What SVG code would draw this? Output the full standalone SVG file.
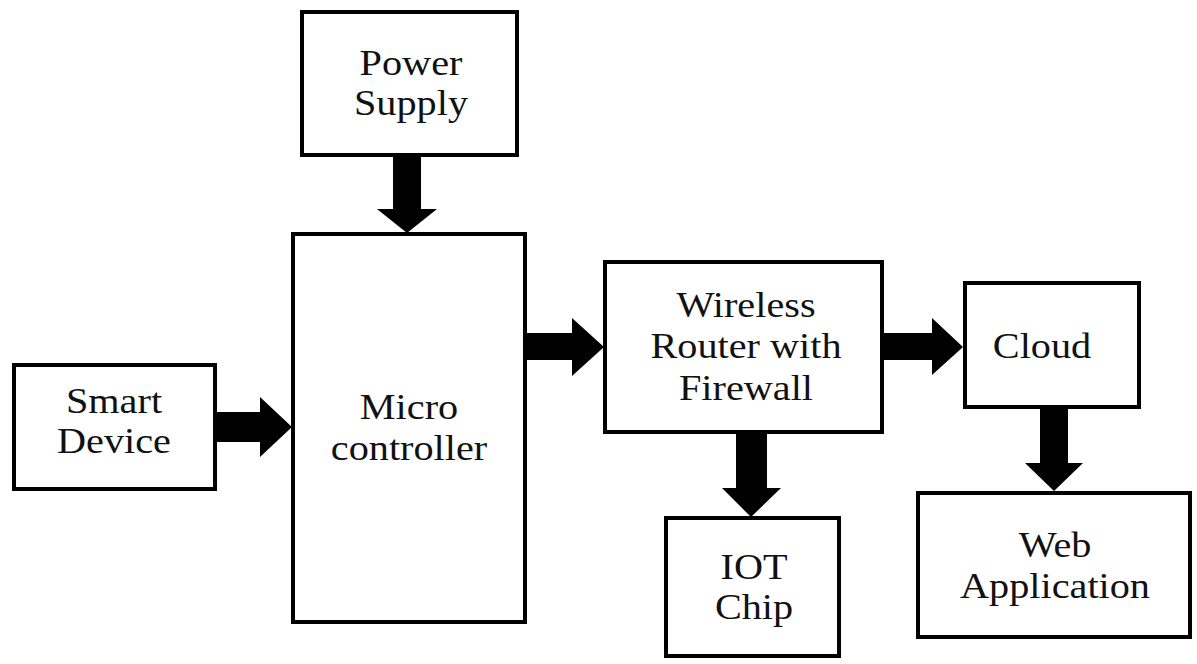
<svg xmlns="http://www.w3.org/2000/svg" width="1197" height="664" viewBox="0 0 1197 664">
<style>
.box{fill:#fff;stroke:#000;stroke-width:4}
.lbl{font-family:"Liberation Serif","Times New Roman",serif;font-size:35px;fill:#111;text-anchor:middle}
.arr{fill:#000}
</style>
<rect width="1197" height="664" fill="#fff"/>
<g id="connectors">
<polygon class="arr" points="393,156 421,156 421,209 437,209 407,233 377,209 393,209"/>
<polygon class="arr" points="216,412 260,412 260,397 292,427 260,457 260,442 216,442"/>
<polygon class="arr" points="526,333 572,333 572,318 604,347 572,376 572,360 526,360"/>
<polygon class="arr" points="883,333 932,333 932,318 963,347 932,375 932,360 883,360"/>
<polygon class="arr" points="736,433 767,433 767,488 781,488 751,517 722,488 736,488"/>
<polygon class="arr" points="1040,408 1068,408 1068,463 1083,463 1054,491 1025,463 1040,463"/>
</g>
<g id="power-supply">
<rect class="box" x="302" y="12" width="215" height="143"/>
<text class="lbl" transform="translate(411,75) scale(1.15,1)">Power</text>
<text class="lbl" transform="translate(411,115) scale(1.15,1)">Supply</text>
</g>
<g id="smart-device">
<rect class="box" x="14" y="365" width="201" height="124"/>
<text class="lbl" transform="translate(114,413) scale(1.15,1)">Smart</text>
<text class="lbl" transform="translate(114,453) scale(1.15,1)">Device</text>
</g>
<g id="microcontroller">
<rect class="box" x="293" y="234" width="232" height="388"/>
<text class="lbl" transform="translate(409,419) scale(1.15,1)">Micro</text>
<text class="lbl" transform="translate(409,460) scale(1.15,1)">controller</text>
</g>
<g id="wireless-router">
<rect class="box" x="605" y="262" width="277" height="170"/>
<text class="lbl" transform="translate(746,317) scale(1.15,1)">Wireless</text>
<text class="lbl" transform="translate(746,358) scale(1.15,1)">Router with</text>
<text class="lbl" transform="translate(746,400) scale(1.15,1)">Firewall</text>
</g>
<g id="cloud">
<rect class="box" x="965" y="283" width="174" height="124"/>
<text class="lbl" transform="translate(1042,358) scale(1.15,1)">Cloud</text>
</g>
<g id="iot-chip">
<rect class="box" x="666" y="518" width="173" height="138"/>
<text class="lbl" transform="translate(754,579) scale(1.15,1)">IOT</text>
<text class="lbl" transform="translate(754,619) scale(1.15,1)">Chip</text>
</g>
<g id="web-application">
<rect class="box" x="918" y="493" width="272" height="144"/>
<text class="lbl" transform="translate(1055,557) scale(1.15,1)">Web</text>
<text class="lbl" transform="translate(1055,598) scale(1.15,1)">Application</text>
</g>
</svg>
